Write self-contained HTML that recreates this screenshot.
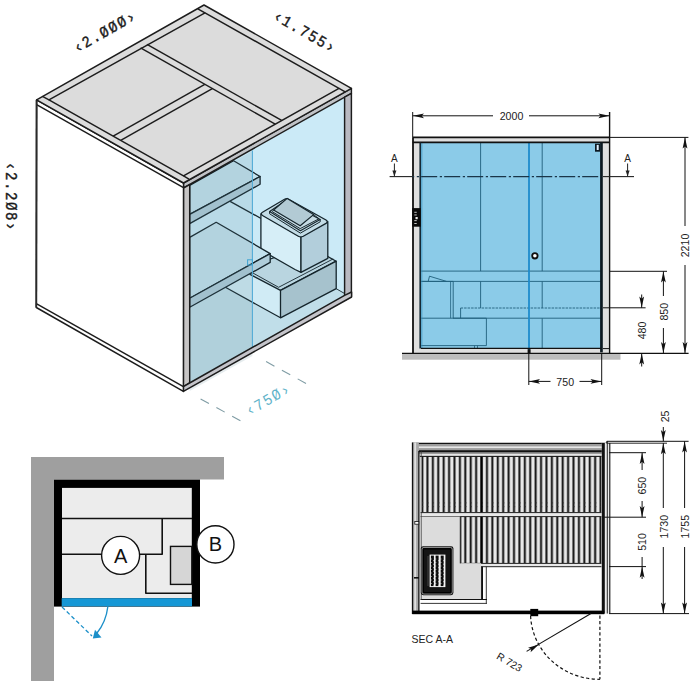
<!DOCTYPE html><html><head><meta charset="utf-8"><style>html,body{margin:0;padding:0;background:#fff;width:700px;height:700px;overflow:hidden}svg{display:block}</style></head><body>
<svg width="700" height="700" viewBox="0 0 700 700">
<polygon points="183.50,188.20 351.40,93.60 351.40,296.74 183.40,391.40" fill="#cbeaf7" stroke="none" stroke-width="0" stroke-linejoin="round" />
<polygon points="189.70,307.20 225.40,287.30 280.50,317.80 336.20,288.70 344.60,293.50 344.60,300.00 189.70,386.00" fill="#c0dee9" stroke="none" stroke-width="0" stroke-linejoin="round" />
<line x1="230.10" y1="201.40" x2="262.00" y2="219.00" stroke="#15252c" stroke-width="1.3" />
<line x1="336.20" y1="288.70" x2="344.60" y2="293.50" stroke="#15252c" stroke-width="0.9" />
<polygon points="189.70,214.40 260.10,176.50 233.60,160.80 189.70,185.40" fill="#c3e2ee" stroke="#15252c" stroke-width="1.3" stroke-linejoin="round" />
<polygon points="189.70,214.40 260.10,176.50 260.10,184.30 189.70,223.60" fill="#afcdda" stroke="#15252c" stroke-width="1.3" stroke-linejoin="round" />
<polygon points="252.60,273.80 280.50,290.30 280.50,317.80 225.40,287.30 240.00,279.00" fill="#d0ebf5" stroke="none" stroke-width="0" stroke-linejoin="round" />
<line x1="280.50" y1="317.80" x2="225.40" y2="287.30" stroke="#15252c" stroke-width="1.3" />
<polygon points="249.90,274.40 280.50,290.30 336.20,261.20 308.00,245.50 262.00,262.00" fill="#b9d5e0" stroke="#15252c" stroke-width="1.3" stroke-linejoin="round" />
<polygon points="280.50,290.30 336.20,261.20 336.20,288.70 280.50,317.80" fill="#a6c2cd" stroke="#15252c" stroke-width="1.3" stroke-linejoin="round" />
<line x1="278.60" y1="287.30" x2="333.20" y2="258.90" stroke="#15252c" stroke-width="0.9" />
<line x1="278.60" y1="287.30" x2="252.00" y2="272.50" stroke="#15252c" stroke-width="0.9" />
<polygon points="260.90,213.80 301.00,236.90 301.00,272.30 295.00,269.50 260.90,250.00" fill="#d6eef7" stroke="#15252c" stroke-width="1.3" stroke-linejoin="round" />
<polygon points="301.00,236.90 327.80,221.50 327.80,258.40 301.00,272.30" fill="#b2cedb" stroke="#15252c" stroke-width="1.3" stroke-linejoin="round" />
<path d="M262.5,212.2 L284.5,199.3 Q286.6,198.2 288.7,199.3 L326,220 Q328.5,221.8 326,223.4 L303.3,236.2 Q300.6,237.6 298.3,236.2 L262.5,215.5 Q260,213.8 262.5,212.2 Z" fill="#c3dce6" stroke="#15252c" stroke-width="1.25"/>
<polygon points="269.60,211.50 285.50,200.80 320.20,219.40 300.40,230.80" fill="#c6dbe4" stroke="#15252c" stroke-width="1.1" stroke-linejoin="round" />
<polyline points="269.60,213.80 300.40,233.10 320.20,221.80" fill="none" stroke="#15252c" stroke-width="1.0" stroke-linejoin="round" />
<line x1="269.60" y1="211.50" x2="269.60" y2="213.80" stroke="#15252c" stroke-width="1.0" />
<line x1="320.20" y1="219.40" x2="320.20" y2="221.80" stroke="#15252c" stroke-width="1.0" />
<polygon points="273.60,210.00 287.20,198.40 313.60,214.60 300.20,225.80" fill="#b2cad4" stroke="#15252c" stroke-width="1.2" stroke-linejoin="round" />
<polyline points="272.20,211.60 300.20,228.60 319.00,218.80" fill="none" stroke="#15252c" stroke-width="1.0" stroke-linejoin="round" />
<line x1="313.60" y1="214.60" x2="319.00" y2="218.80" stroke="#15252c" stroke-width="1.0" />
<line x1="273.60" y1="210.00" x2="272.20" y2="211.60" stroke="#15252c" stroke-width="1.0" />
<polygon points="189.70,237.40 216.20,222.30 270.20,253.60 189.70,298.20" fill="#c3e2ee" stroke="#15252c" stroke-width="1.3" stroke-linejoin="round" />
<polygon points="189.70,298.20 270.20,253.60 270.20,262.40 189.70,307.20" fill="#afcdda" stroke="#15252c" stroke-width="1.3" stroke-linejoin="round" />
<polygon points="189.70,186.00 252.40,151.00 252.40,356.00 189.70,391.00" fill="#5a7e90" stroke="none" stroke-width="0" stroke-linejoin="round" fill-opacity="0.15"/>
<line x1="252.40" y1="150.50" x2="252.40" y2="347.30" stroke="#4faad6" stroke-width="1.05" />
<rect x="247.60" y="259.80" width="4.80" height="5.20" fill="none" stroke="#3ea3d2" stroke-width="1.0" />
<polygon points="183.50,183.00 351.40,88.40 351.40,93.40 183.50,188.00" fill="#c0c2c6" stroke="#1c1c1c" stroke-width="1.45" stroke-linejoin="round" />
<polygon points="183.50,188.00 189.70,184.60 189.70,383.00 183.40,386.60" fill="#c7c5c5" stroke="#1c1c1c" stroke-width="1.45" stroke-linejoin="round" />
<polygon points="344.60,97.20 351.40,93.40 351.40,296.50 344.60,300.30" fill="#b9b9c1" stroke="#1c1c1c" stroke-width="1.45" stroke-linejoin="round" />
<polygon points="183.40,391.40 351.60,297.00 351.60,292.00 344.60,295.30 189.60,383.00 183.40,386.60" fill="#c4c4ca" stroke="#1c1c1c" stroke-width="1.45" stroke-linejoin="round" />
<polygon points="36.60,99.90 183.50,183.00 183.40,391.40 36.30,307.50" fill="#ffffff" stroke="#1c1c1c" stroke-width="1.45" stroke-linejoin="round" />
<line x1="36.60" y1="104.70" x2="183.50" y2="187.60" stroke="#1c1c1c" stroke-width="1.45" />
<line x1="36.30" y1="303.70" x2="183.40" y2="386.60" stroke="#1c1c1c" stroke-width="1.45" />
<line x1="36.60" y1="99.90" x2="36.30" y2="307.50" stroke="#2a2a2a" stroke-width="1.8" />
<polygon points="36.60,99.90 204.00,5.00 351.40,88.40 183.50,183.00" fill="#dcdcdc" stroke="#1c1c1c" stroke-width="1.45" stroke-linejoin="round" />
<polygon points="48.96,99.89 205.00,12.80 339.00,88.40 183.50,175.80" fill="none" stroke="#1c1c1c" stroke-width="1.45" stroke-linejoin="round" />
<line x1="48.96" y1="99.89" x2="42.46" y2="96.39" stroke="#1c1c1c" stroke-width="1.45" />
<line x1="183.50" y1="175.80" x2="189.00" y2="179.10" stroke="#1c1c1c" stroke-width="1.45" />
<line x1="205.00" y1="12.80" x2="197.80" y2="8.80" stroke="#1c1c1c" stroke-width="1.45" />
<line x1="339.00" y1="88.40" x2="345.20" y2="91.90" stroke="#1c1c1c" stroke-width="1.45" />
<line x1="140.57" y1="47.96" x2="275.20" y2="124.13" stroke="#1c1c1c" stroke-width="1.45" />
<line x1="147.01" y1="44.31" x2="281.66" y2="120.49" stroke="#1c1c1c" stroke-width="1.45" />
<line x1="113.16" y1="136.21" x2="204.76" y2="84.28" stroke="#1c1c1c" stroke-width="1.45" />
<line x1="120.72" y1="140.49" x2="212.32" y2="88.56" stroke="#1c1c1c" stroke-width="1.45" />
<text x="0" y="0" transform="translate(105.30,32.30) rotate(-29.50) scale(1,1.12)" font-family="Liberation Mono" font-size="14" letter-spacing="1.6" fill="#1a1a1a" stroke="#1a1a1a" stroke-width="0.35" text-anchor="middle" dominant-baseline="central">‹2.ØØØ›</text>
<text x="0" y="0" transform="translate(304.60,32.50) rotate(30.00) scale(1,1.12)" font-family="Liberation Mono" font-size="14" letter-spacing="1.6" fill="#1a1a1a" stroke="#1a1a1a" stroke-width="0.35" text-anchor="middle" dominant-baseline="central">‹1.755›</text>
<text x="0" y="0" transform="translate(9.80,197.00) rotate(90.00) scale(1,1.12)" font-family="Liberation Mono" font-size="14" letter-spacing="1.6" fill="#1a1a1a" stroke="#1a1a1a" stroke-width="0.35" text-anchor="middle" dominant-baseline="central">‹2.2Ø8›</text>
<text x="0" y="0" transform="translate(268.70,400.10) rotate(-29.50) scale(1,1.12)" font-family="Liberation Mono" font-size="14" letter-spacing="1.6" fill="#5fb3c9" stroke="#5fb3c9" stroke-width="0" text-anchor="middle" dominant-baseline="central">‹75Ø›</text>
<line x1="200.60" y1="398.90" x2="240.40" y2="420.70" stroke="#7f9ca4" stroke-width="1.1" stroke-dasharray="9.5,8.5"/>
<line x1="266.10" y1="361.60" x2="306.00" y2="383.40" stroke="#7f9ca4" stroke-width="1.1" stroke-dasharray="9.5,8.5"/>
<rect x="31.00" y="457.00" width="23.00" height="224.00" fill="#9f9f9f" stroke="none" stroke-width="1.0" />
<rect x="31.00" y="457.00" width="193.00" height="22.50" fill="#9f9f9f" stroke="none" stroke-width="1.0" />
<rect x="54.00" y="479.60" width="146.00" height="127.00" fill="#000" stroke="none" stroke-width="1.0" />
<rect x="62.00" y="487.90" width="129.80" height="110.30" fill="#ececec" stroke="none" stroke-width="1.0" />
<rect x="61.70" y="598.20" width="130.30" height="8.20" fill="#1597d5" stroke="none" stroke-width="1.0" />
<line x1="62.00" y1="518.50" x2="192.00" y2="518.50" stroke="#111" stroke-width="1.6" />
<polyline points="162.20,518.50 162.20,554.30 139.60,554.30" fill="none" stroke="#111" stroke-width="1.6" stroke-linejoin="round" />
<line x1="62.00" y1="554.30" x2="101.60" y2="554.30" stroke="#111" stroke-width="1.6" />
<polyline points="145.80,554.30 145.80,593.20 192.00,593.20" fill="none" stroke="#111" stroke-width="1.6" stroke-linejoin="round" />
<rect x="170.50" y="546.40" width="21.30" height="38.00" fill="#d6d6d6" stroke="#111" stroke-width="1.4" />
<circle cx="120.6" cy="555.4" r="19" fill="#fff" stroke="#111" stroke-width="1.4"/>
<circle cx="215.4" cy="544.4" r="18.6" fill="#fff" stroke="#111" stroke-width="1.4"/>
<text x="120.60" y="562.70" font-family="Liberation Sans" font-size="20" fill="#111" text-anchor="middle" >A</text>
<text x="215.40" y="551.20" font-family="Liberation Sans" font-size="20" fill="#111" text-anchor="middle" >B</text>
<line x1="62.00" y1="607.00" x2="92.00" y2="636.00" stroke="#1b8fc9" stroke-width="1.3" stroke-dasharray="4,2.6"/>
<path d="M107.9,606.4 Q106,622 97,633" fill="none" stroke="#1b8fc9" stroke-width="1.3"/>
<polygon points="92.80,638.60 101.50,637.50 95.00,629.80" fill="#1b8fc9" stroke="none" stroke-width="0" stroke-linejoin="round" />
<rect x="402.00" y="353.30" width="218.50" height="6.40" fill="#bdbdbd" stroke="none" stroke-width="1.0" />
<rect x="412.70" y="137.30" width="197.00" height="216.00" fill="#dfdfdf" stroke="none" stroke-width="1.0" />
<rect x="421.00" y="142.80" width="180.00" height="205.60" fill="#8bcbe8" stroke="none" stroke-width="1.0" />
<line x1="480.60" y1="142.80" x2="480.60" y2="271.10" stroke="#1f5f7c" stroke-width="0.9" />
<line x1="480.60" y1="281.40" x2="480.60" y2="308.00" stroke="#1f5f7c" stroke-width="0.9" />
<line x1="542.20" y1="142.80" x2="542.20" y2="271.10" stroke="#1f5f7c" stroke-width="0.9" />
<line x1="542.20" y1="281.40" x2="542.20" y2="308.00" stroke="#1f5f7c" stroke-width="0.9" />
<line x1="542.20" y1="318.30" x2="542.20" y2="348.30" stroke="#1f5f7c" stroke-width="0.9" />
<line x1="421.00" y1="271.10" x2="601.00" y2="271.10" stroke="#1f5f7c" stroke-width="0.9" />
<line x1="421.00" y1="281.40" x2="601.00" y2="281.40" stroke="#1f5f7c" stroke-width="0.9" />
<line x1="460.60" y1="308.00" x2="601.00" y2="308.00" stroke="#1f5f7c" stroke-width="0.9" stroke-dasharray="2.5,1"/>
<line x1="460.60" y1="308.00" x2="460.60" y2="318.20" stroke="#1f5f7c" stroke-width="0.9" />
<line x1="453.00" y1="318.20" x2="601.00" y2="318.20" stroke="#1f5f7c" stroke-width="0.9" />
<polyline points="421.00,281.40 453.20,281.40 453.20,318.20" fill="none" stroke="#1f5f7c" stroke-width="0.9" stroke-linejoin="round" />
<line x1="450.60" y1="281.40" x2="450.60" y2="318.20" stroke="#1f5f7c" stroke-width="0.8" />
<polyline points="428.20,281.40 429.50,276.20 446.50,281.40" fill="none" stroke="#1f5f7c" stroke-width="0.9" stroke-linejoin="round" />
<polyline points="421.00,318.20 486.40,318.20 486.40,345.60 421.00,345.60" fill="none" stroke="#1f5f7c" stroke-width="0.9" stroke-linejoin="round" />
<line x1="474.50" y1="345.60" x2="474.50" y2="348.30" stroke="#1f5f7c" stroke-width="0.8" />
<line x1="477.50" y1="345.60" x2="477.50" y2="348.30" stroke="#1f5f7c" stroke-width="0.8" />
<line x1="421.80" y1="142.80" x2="421.80" y2="348.30" stroke="#3a90bb" stroke-width="0.8" />
<line x1="529.00" y1="142.80" x2="529.00" y2="351.00" stroke="#1f8ccc" stroke-width="1.8" />
<circle cx="534.9" cy="255.8" r="2.7" fill="#fff" stroke="#111" stroke-width="1.8"/>
<line x1="412.70" y1="137.40" x2="609.70" y2="137.40" stroke="#111" stroke-width="1.8" />
<line x1="412.70" y1="142.40" x2="609.70" y2="142.40" stroke="#111" stroke-width="1.6" />
<line x1="413.00" y1="137.30" x2="413.00" y2="353.30" stroke="#111" stroke-width="1.8" />
<line x1="420.20" y1="142.40" x2="420.20" y2="348.50" stroke="#152a36" stroke-width="1.6" />
<line x1="609.60" y1="112.00" x2="609.60" y2="353.30" stroke="#111" stroke-width="1.4" />
<rect x="600.10" y="142.40" width="2.70" height="210.00" fill="#0c1820" stroke="none" stroke-width="1.0" />
<rect x="595.00" y="143.70" width="5.10" height="8.00" fill="#0c1820" stroke="none" stroke-width="1.0" />
<rect x="596.70" y="144.90" width="2.00" height="5.10" fill="#dfefff" stroke="none" stroke-width="1.0" />
<line x1="421.00" y1="348.40" x2="601.00" y2="348.40" stroke="#111" stroke-width="1.1" />
<line x1="402.00" y1="353.30" x2="688.60" y2="353.30" stroke="#111" stroke-width="1.3" />
<rect x="527.60" y="349.20" width="3.00" height="4.00" fill="#111" stroke="none" stroke-width="1.0" />
<line x1="603.00" y1="348.60" x2="609.60" y2="348.60" stroke="#111" stroke-width="1.0" />
<rect x="412.20" y="208.10" width="8.60" height="18.60" fill="#0a0a0a" stroke="none" stroke-width="1.0" />
<rect x="414.30" y="211.80" width="2.40" height="0.90" fill="#ddd" stroke="none" stroke-width="1.0" />
<rect x="414.30" y="214.50" width="2.40" height="0.90" fill="#ddd" stroke="none" stroke-width="1.0" />
<rect x="414.30" y="220.20" width="2.40" height="0.90" fill="#ddd" stroke="none" stroke-width="1.0" />
<rect x="414.30" y="223.00" width="2.40" height="0.90" fill="#ddd" stroke="none" stroke-width="1.0" />
<rect x="415.50" y="217.00" width="2.20" height="2.20" fill="#eee" stroke="none" stroke-width="1.0" />
<line x1="389.60" y1="176.60" x2="412.50" y2="176.60" stroke="#222" stroke-width="1.1" />
<line x1="603.00" y1="176.60" x2="634.00" y2="176.60" stroke="#222" stroke-width="1.1" />
<line x1="412.50" y1="176.60" x2="601.00" y2="176.60" stroke="#1a3548" stroke-width="1.3" stroke-dasharray="16,2.6,2.2,2.2" stroke-dashoffset="14.3"/>
<line x1="394.40" y1="163.50" x2="394.40" y2="176.20" stroke="#222" stroke-width="1.0" />
<polygon points="392.40,170.50 396.40,170.50 394.40,176.40" fill="#222" stroke="none" stroke-width="0" stroke-linejoin="round" />
<text x="394.40" y="161.50" font-family="Liberation Sans" font-size="10" fill="#222" text-anchor="middle" >A</text>
<line x1="627.60" y1="163.50" x2="627.60" y2="176.20" stroke="#222" stroke-width="1.0" />
<polygon points="625.60,170.50 629.60,170.50 627.60,176.40" fill="#222" stroke="none" stroke-width="0" stroke-linejoin="round" />
<text x="627.60" y="161.50" font-family="Liberation Sans" font-size="10" fill="#222" text-anchor="middle" >A</text>
<line x1="412.70" y1="112.00" x2="412.70" y2="137.30" stroke="#111" stroke-width="1.0" />
<line x1="412.70" y1="115.80" x2="493.00" y2="115.80" stroke="#111" stroke-width="1.0" />
<line x1="529.00" y1="115.80" x2="609.60" y2="115.80" stroke="#111" stroke-width="1.0" />
<polygon points="413.00,115.80 424.00,113.40 421.80,115.80 424.00,118.20" fill="#111" stroke="none" stroke-width="0" stroke-linejoin="round" />
<polygon points="609.40,115.80 598.40,113.40 600.60,115.80 598.40,118.20" fill="#111" stroke="none" stroke-width="0" stroke-linejoin="round" />
<text x="511.50" y="120.20" font-family="Liberation Sans" font-size="10.6" fill="#222" text-anchor="middle" >2000</text>
<line x1="609.60" y1="137.40" x2="688.40" y2="137.40" stroke="#111" stroke-width="1.0" />
<line x1="685.00" y1="137.40" x2="685.00" y2="226.00" stroke="#111" stroke-width="1.0" />
<line x1="685.00" y1="265.00" x2="685.00" y2="353.30" stroke="#111" stroke-width="1.0" />
<polygon points="685.00,137.60 682.60,148.60 685.00,146.40 687.40,148.60" fill="#111" stroke="none" stroke-width="0" stroke-linejoin="round" />
<polygon points="685.00,353.10 682.60,342.10 685.00,344.30 687.40,342.10" fill="#111" stroke="none" stroke-width="0" stroke-linejoin="round" />
<text x="0" y="0" transform="translate(689.2,245.5) rotate(-90)" font-family="Liberation Sans" font-size="10.6" fill="#222" text-anchor="middle">2210</text>
<line x1="609.60" y1="271.30" x2="667.00" y2="271.30" stroke="#111" stroke-width="1.0" />
<line x1="663.40" y1="271.30" x2="663.40" y2="296.00" stroke="#111" stroke-width="1.0" />
<line x1="663.40" y1="328.00" x2="663.40" y2="353.30" stroke="#111" stroke-width="1.0" />
<polygon points="663.40,271.50 661.00,282.50 663.40,280.30 665.80,282.50" fill="#111" stroke="none" stroke-width="0" stroke-linejoin="round" />
<polygon points="663.40,353.10 661.00,342.10 663.40,344.30 665.80,342.10" fill="#111" stroke="none" stroke-width="0" stroke-linejoin="round" />
<text x="0" y="0" transform="translate(667.6,311.7) rotate(-90)" font-family="Liberation Sans" font-size="10.6" fill="#222" text-anchor="middle">850</text>
<line x1="603.00" y1="307.80" x2="645.60" y2="307.80" stroke="#111" stroke-width="1.0" />
<line x1="641.70" y1="294.50" x2="641.70" y2="307.80" stroke="#111" stroke-width="1.0" />
<polygon points="641.70,307.60 639.30,296.60 641.70,298.80 644.10,296.60" fill="#111" stroke="none" stroke-width="0" stroke-linejoin="round" />
<line x1="641.70" y1="353.30" x2="641.70" y2="366.50" stroke="#111" stroke-width="1.0" />
<polygon points="641.70,353.50 639.30,364.50 641.70,362.30 644.10,364.50" fill="#111" stroke="none" stroke-width="0" stroke-linejoin="round" />
<text x="0" y="0" transform="translate(645.9,330.5) rotate(-90)" font-family="Liberation Sans" font-size="10.6" fill="#222" text-anchor="middle">480</text>
<line x1="528.80" y1="351.00" x2="528.80" y2="385.00" stroke="#111" stroke-width="1.0" />
<line x1="601.70" y1="353.00" x2="601.70" y2="385.00" stroke="#111" stroke-width="1.0" />
<line x1="528.80" y1="381.40" x2="550.50" y2="381.40" stroke="#111" stroke-width="1.0" />
<line x1="579.50" y1="381.40" x2="601.70" y2="381.40" stroke="#111" stroke-width="1.0" />
<polygon points="529.00,381.40 540.00,379.00 537.80,381.40 540.00,383.80" fill="#111" stroke="none" stroke-width="0" stroke-linejoin="round" />
<polygon points="601.50,381.40 590.50,379.00 592.70,381.40 590.50,383.80" fill="#111" stroke="none" stroke-width="0" stroke-linejoin="round" />
<text x="565.20" y="385.80" font-family="Liberation Sans" font-size="10.6" fill="#222" text-anchor="middle" >750</text>
<rect x="422.00" y="456.20" width="179.50" height="56.40" fill="#8e8e8e" stroke="none" stroke-width="1.0" />
<rect x="422.00" y="456.20" width="1.40" height="56.40" fill="#1c1c1c" stroke="none" stroke-width="1.0" />
<rect x="423.59" y="456.20" width="2.40" height="56.40" fill="#e8e8e8" stroke="none" stroke-width="1.0" />
<rect x="426.70" y="456.20" width="1.40" height="56.40" fill="#1c1c1c" stroke="none" stroke-width="1.0" />
<rect x="429.00" y="456.20" width="2.40" height="56.40" fill="#e8e8e8" stroke="none" stroke-width="1.0" />
<rect x="432.11" y="456.20" width="1.40" height="56.40" fill="#1c1c1c" stroke="none" stroke-width="1.0" />
<rect x="434.41" y="456.20" width="2.40" height="56.40" fill="#e8e8e8" stroke="none" stroke-width="1.0" />
<rect x="437.52" y="456.20" width="1.40" height="56.40" fill="#1c1c1c" stroke="none" stroke-width="1.0" />
<rect x="439.82" y="456.20" width="2.40" height="56.40" fill="#e8e8e8" stroke="none" stroke-width="1.0" />
<rect x="442.93" y="456.20" width="1.40" height="56.40" fill="#1c1c1c" stroke="none" stroke-width="1.0" />
<rect x="445.23" y="456.20" width="2.40" height="56.40" fill="#e8e8e8" stroke="none" stroke-width="1.0" />
<rect x="448.34" y="456.20" width="1.40" height="56.40" fill="#1c1c1c" stroke="none" stroke-width="1.0" />
<rect x="450.64" y="456.20" width="2.40" height="56.40" fill="#e8e8e8" stroke="none" stroke-width="1.0" />
<rect x="453.75" y="456.20" width="1.40" height="56.40" fill="#1c1c1c" stroke="none" stroke-width="1.0" />
<rect x="456.05" y="456.20" width="2.40" height="56.40" fill="#e8e8e8" stroke="none" stroke-width="1.0" />
<rect x="459.16" y="456.20" width="1.40" height="56.40" fill="#1c1c1c" stroke="none" stroke-width="1.0" />
<rect x="461.46" y="456.20" width="2.40" height="56.40" fill="#e8e8e8" stroke="none" stroke-width="1.0" />
<rect x="464.57" y="456.20" width="1.40" height="56.40" fill="#1c1c1c" stroke="none" stroke-width="1.0" />
<rect x="466.87" y="456.20" width="2.40" height="56.40" fill="#e8e8e8" stroke="none" stroke-width="1.0" />
<rect x="469.98" y="456.20" width="1.40" height="56.40" fill="#1c1c1c" stroke="none" stroke-width="1.0" />
<rect x="472.28" y="456.20" width="2.40" height="56.40" fill="#e8e8e8" stroke="none" stroke-width="1.0" />
<rect x="475.39" y="456.20" width="1.40" height="56.40" fill="#1c1c1c" stroke="none" stroke-width="1.0" />
<rect x="477.69" y="456.20" width="2.40" height="56.40" fill="#e8e8e8" stroke="none" stroke-width="1.0" />
<rect x="480.80" y="456.20" width="1.40" height="56.40" fill="#1c1c1c" stroke="none" stroke-width="1.0" />
<rect x="483.10" y="456.20" width="2.40" height="56.40" fill="#e8e8e8" stroke="none" stroke-width="1.0" />
<rect x="486.21" y="456.20" width="1.40" height="56.40" fill="#1c1c1c" stroke="none" stroke-width="1.0" />
<rect x="488.51" y="456.20" width="2.40" height="56.40" fill="#e8e8e8" stroke="none" stroke-width="1.0" />
<rect x="491.62" y="456.20" width="1.40" height="56.40" fill="#1c1c1c" stroke="none" stroke-width="1.0" />
<rect x="493.92" y="456.20" width="2.40" height="56.40" fill="#e8e8e8" stroke="none" stroke-width="1.0" />
<rect x="497.03" y="456.20" width="1.40" height="56.40" fill="#1c1c1c" stroke="none" stroke-width="1.0" />
<rect x="499.33" y="456.20" width="2.40" height="56.40" fill="#e8e8e8" stroke="none" stroke-width="1.0" />
<rect x="502.44" y="456.20" width="1.40" height="56.40" fill="#1c1c1c" stroke="none" stroke-width="1.0" />
<rect x="504.74" y="456.20" width="2.40" height="56.40" fill="#e8e8e8" stroke="none" stroke-width="1.0" />
<rect x="507.85" y="456.20" width="1.40" height="56.40" fill="#1c1c1c" stroke="none" stroke-width="1.0" />
<rect x="510.15" y="456.20" width="2.40" height="56.40" fill="#e8e8e8" stroke="none" stroke-width="1.0" />
<rect x="513.26" y="456.20" width="1.40" height="56.40" fill="#1c1c1c" stroke="none" stroke-width="1.0" />
<rect x="515.56" y="456.20" width="2.40" height="56.40" fill="#e8e8e8" stroke="none" stroke-width="1.0" />
<rect x="518.67" y="456.20" width="1.40" height="56.40" fill="#1c1c1c" stroke="none" stroke-width="1.0" />
<rect x="520.97" y="456.20" width="2.40" height="56.40" fill="#e8e8e8" stroke="none" stroke-width="1.0" />
<rect x="524.08" y="456.20" width="1.40" height="56.40" fill="#1c1c1c" stroke="none" stroke-width="1.0" />
<rect x="526.38" y="456.20" width="2.40" height="56.40" fill="#e8e8e8" stroke="none" stroke-width="1.0" />
<rect x="529.49" y="456.20" width="1.40" height="56.40" fill="#1c1c1c" stroke="none" stroke-width="1.0" />
<rect x="531.79" y="456.20" width="2.40" height="56.40" fill="#e8e8e8" stroke="none" stroke-width="1.0" />
<rect x="534.90" y="456.20" width="1.40" height="56.40" fill="#1c1c1c" stroke="none" stroke-width="1.0" />
<rect x="537.20" y="456.20" width="2.40" height="56.40" fill="#e8e8e8" stroke="none" stroke-width="1.0" />
<rect x="540.31" y="456.20" width="1.40" height="56.40" fill="#1c1c1c" stroke="none" stroke-width="1.0" />
<rect x="542.61" y="456.20" width="2.40" height="56.40" fill="#e8e8e8" stroke="none" stroke-width="1.0" />
<rect x="545.72" y="456.20" width="1.40" height="56.40" fill="#1c1c1c" stroke="none" stroke-width="1.0" />
<rect x="548.02" y="456.20" width="2.40" height="56.40" fill="#e8e8e8" stroke="none" stroke-width="1.0" />
<rect x="551.13" y="456.20" width="1.40" height="56.40" fill="#1c1c1c" stroke="none" stroke-width="1.0" />
<rect x="553.43" y="456.20" width="2.40" height="56.40" fill="#e8e8e8" stroke="none" stroke-width="1.0" />
<rect x="556.54" y="456.20" width="1.40" height="56.40" fill="#1c1c1c" stroke="none" stroke-width="1.0" />
<rect x="558.84" y="456.20" width="2.40" height="56.40" fill="#e8e8e8" stroke="none" stroke-width="1.0" />
<rect x="561.95" y="456.20" width="1.40" height="56.40" fill="#1c1c1c" stroke="none" stroke-width="1.0" />
<rect x="564.25" y="456.20" width="2.40" height="56.40" fill="#e8e8e8" stroke="none" stroke-width="1.0" />
<rect x="567.36" y="456.20" width="1.40" height="56.40" fill="#1c1c1c" stroke="none" stroke-width="1.0" />
<rect x="569.66" y="456.20" width="2.40" height="56.40" fill="#e8e8e8" stroke="none" stroke-width="1.0" />
<rect x="572.77" y="456.20" width="1.40" height="56.40" fill="#1c1c1c" stroke="none" stroke-width="1.0" />
<rect x="575.07" y="456.20" width="2.40" height="56.40" fill="#e8e8e8" stroke="none" stroke-width="1.0" />
<rect x="578.18" y="456.20" width="1.40" height="56.40" fill="#1c1c1c" stroke="none" stroke-width="1.0" />
<rect x="580.48" y="456.20" width="2.40" height="56.40" fill="#e8e8e8" stroke="none" stroke-width="1.0" />
<rect x="583.59" y="456.20" width="1.40" height="56.40" fill="#1c1c1c" stroke="none" stroke-width="1.0" />
<rect x="585.89" y="456.20" width="2.40" height="56.40" fill="#e8e8e8" stroke="none" stroke-width="1.0" />
<rect x="589.00" y="456.20" width="1.40" height="56.40" fill="#1c1c1c" stroke="none" stroke-width="1.0" />
<rect x="591.30" y="456.20" width="2.40" height="56.40" fill="#e8e8e8" stroke="none" stroke-width="1.0" />
<rect x="594.41" y="456.20" width="1.40" height="56.40" fill="#1c1c1c" stroke="none" stroke-width="1.0" />
<rect x="596.71" y="456.20" width="2.40" height="56.40" fill="#e8e8e8" stroke="none" stroke-width="1.0" />
<rect x="599.82" y="456.20" width="1.40" height="56.40" fill="#1c1c1c" stroke="none" stroke-width="1.0" />
<rect x="460.30" y="516.60" width="141.20" height="46.60" fill="#8e8e8e" stroke="none" stroke-width="1.0" />
<rect x="460.30" y="516.60" width="1.40" height="46.60" fill="#1c1c1c" stroke="none" stroke-width="1.0" />
<rect x="461.46" y="516.60" width="2.40" height="46.60" fill="#e8e8e8" stroke="none" stroke-width="1.0" />
<rect x="464.57" y="516.60" width="1.40" height="46.60" fill="#1c1c1c" stroke="none" stroke-width="1.0" />
<rect x="466.87" y="516.60" width="2.40" height="46.60" fill="#e8e8e8" stroke="none" stroke-width="1.0" />
<rect x="469.98" y="516.60" width="1.40" height="46.60" fill="#1c1c1c" stroke="none" stroke-width="1.0" />
<rect x="472.28" y="516.60" width="2.40" height="46.60" fill="#e8e8e8" stroke="none" stroke-width="1.0" />
<rect x="475.39" y="516.60" width="1.40" height="46.60" fill="#1c1c1c" stroke="none" stroke-width="1.0" />
<rect x="477.69" y="516.60" width="2.40" height="46.60" fill="#e8e8e8" stroke="none" stroke-width="1.0" />
<rect x="480.80" y="516.60" width="1.40" height="46.60" fill="#1c1c1c" stroke="none" stroke-width="1.0" />
<rect x="483.10" y="516.60" width="2.40" height="46.60" fill="#e8e8e8" stroke="none" stroke-width="1.0" />
<rect x="486.21" y="516.60" width="1.40" height="46.60" fill="#1c1c1c" stroke="none" stroke-width="1.0" />
<rect x="488.51" y="516.60" width="2.40" height="46.60" fill="#e8e8e8" stroke="none" stroke-width="1.0" />
<rect x="491.62" y="516.60" width="1.40" height="46.60" fill="#1c1c1c" stroke="none" stroke-width="1.0" />
<rect x="493.92" y="516.60" width="2.40" height="46.60" fill="#e8e8e8" stroke="none" stroke-width="1.0" />
<rect x="497.03" y="516.60" width="1.40" height="46.60" fill="#1c1c1c" stroke="none" stroke-width="1.0" />
<rect x="499.33" y="516.60" width="2.40" height="46.60" fill="#e8e8e8" stroke="none" stroke-width="1.0" />
<rect x="502.44" y="516.60" width="1.40" height="46.60" fill="#1c1c1c" stroke="none" stroke-width="1.0" />
<rect x="504.74" y="516.60" width="2.40" height="46.60" fill="#e8e8e8" stroke="none" stroke-width="1.0" />
<rect x="507.85" y="516.60" width="1.40" height="46.60" fill="#1c1c1c" stroke="none" stroke-width="1.0" />
<rect x="510.15" y="516.60" width="2.40" height="46.60" fill="#e8e8e8" stroke="none" stroke-width="1.0" />
<rect x="513.26" y="516.60" width="1.40" height="46.60" fill="#1c1c1c" stroke="none" stroke-width="1.0" />
<rect x="515.56" y="516.60" width="2.40" height="46.60" fill="#e8e8e8" stroke="none" stroke-width="1.0" />
<rect x="518.67" y="516.60" width="1.40" height="46.60" fill="#1c1c1c" stroke="none" stroke-width="1.0" />
<rect x="520.97" y="516.60" width="2.40" height="46.60" fill="#e8e8e8" stroke="none" stroke-width="1.0" />
<rect x="524.08" y="516.60" width="1.40" height="46.60" fill="#1c1c1c" stroke="none" stroke-width="1.0" />
<rect x="526.38" y="516.60" width="2.40" height="46.60" fill="#e8e8e8" stroke="none" stroke-width="1.0" />
<rect x="529.49" y="516.60" width="1.40" height="46.60" fill="#1c1c1c" stroke="none" stroke-width="1.0" />
<rect x="531.79" y="516.60" width="2.40" height="46.60" fill="#e8e8e8" stroke="none" stroke-width="1.0" />
<rect x="534.90" y="516.60" width="1.40" height="46.60" fill="#1c1c1c" stroke="none" stroke-width="1.0" />
<rect x="537.20" y="516.60" width="2.40" height="46.60" fill="#e8e8e8" stroke="none" stroke-width="1.0" />
<rect x="540.31" y="516.60" width="1.40" height="46.60" fill="#1c1c1c" stroke="none" stroke-width="1.0" />
<rect x="542.61" y="516.60" width="2.40" height="46.60" fill="#e8e8e8" stroke="none" stroke-width="1.0" />
<rect x="545.72" y="516.60" width="1.40" height="46.60" fill="#1c1c1c" stroke="none" stroke-width="1.0" />
<rect x="548.02" y="516.60" width="2.40" height="46.60" fill="#e8e8e8" stroke="none" stroke-width="1.0" />
<rect x="551.13" y="516.60" width="1.40" height="46.60" fill="#1c1c1c" stroke="none" stroke-width="1.0" />
<rect x="553.43" y="516.60" width="2.40" height="46.60" fill="#e8e8e8" stroke="none" stroke-width="1.0" />
<rect x="556.54" y="516.60" width="1.40" height="46.60" fill="#1c1c1c" stroke="none" stroke-width="1.0" />
<rect x="558.84" y="516.60" width="2.40" height="46.60" fill="#e8e8e8" stroke="none" stroke-width="1.0" />
<rect x="561.95" y="516.60" width="1.40" height="46.60" fill="#1c1c1c" stroke="none" stroke-width="1.0" />
<rect x="564.25" y="516.60" width="2.40" height="46.60" fill="#e8e8e8" stroke="none" stroke-width="1.0" />
<rect x="567.36" y="516.60" width="1.40" height="46.60" fill="#1c1c1c" stroke="none" stroke-width="1.0" />
<rect x="569.66" y="516.60" width="2.40" height="46.60" fill="#e8e8e8" stroke="none" stroke-width="1.0" />
<rect x="572.77" y="516.60" width="1.40" height="46.60" fill="#1c1c1c" stroke="none" stroke-width="1.0" />
<rect x="575.07" y="516.60" width="2.40" height="46.60" fill="#e8e8e8" stroke="none" stroke-width="1.0" />
<rect x="578.18" y="516.60" width="1.40" height="46.60" fill="#1c1c1c" stroke="none" stroke-width="1.0" />
<rect x="580.48" y="516.60" width="2.40" height="46.60" fill="#e8e8e8" stroke="none" stroke-width="1.0" />
<rect x="583.59" y="516.60" width="1.40" height="46.60" fill="#1c1c1c" stroke="none" stroke-width="1.0" />
<rect x="585.89" y="516.60" width="2.40" height="46.60" fill="#e8e8e8" stroke="none" stroke-width="1.0" />
<rect x="589.00" y="516.60" width="1.40" height="46.60" fill="#1c1c1c" stroke="none" stroke-width="1.0" />
<rect x="591.30" y="516.60" width="2.40" height="46.60" fill="#e8e8e8" stroke="none" stroke-width="1.0" />
<rect x="594.41" y="516.60" width="1.40" height="46.60" fill="#1c1c1c" stroke="none" stroke-width="1.0" />
<rect x="596.71" y="516.60" width="2.40" height="46.60" fill="#e8e8e8" stroke="none" stroke-width="1.0" />
<rect x="599.82" y="516.60" width="1.40" height="46.60" fill="#1c1c1c" stroke="none" stroke-width="1.0" />
<line x1="422.00" y1="502.90" x2="601.00" y2="502.90" stroke="#333" stroke-width="0.9" stroke-dasharray="1.2,4.21"/>
<line x1="422.00" y1="506.70" x2="601.00" y2="506.70" stroke="#333" stroke-width="0.9" stroke-dasharray="1.2,4.21"/>
<rect x="480.50" y="456.20" width="2.10" height="107.00" fill="#000" stroke="none" stroke-width="1.0" />
<rect x="420.60" y="512.40" width="181.00" height="4.20" fill="#e8e8e8" stroke="none" stroke-width="1.0" />
<line x1="420.60" y1="512.60" x2="601.50" y2="512.60" stroke="#222" stroke-width="1.0" />
<line x1="420.60" y1="516.60" x2="601.50" y2="516.60" stroke="#222" stroke-width="1.0" />
<rect x="460.30" y="563.20" width="141.20" height="3.60" fill="#e8e8e8" stroke="none" stroke-width="1.0" />
<line x1="460.30" y1="563.40" x2="601.50" y2="563.40" stroke="#222" stroke-width="1.0" />
<line x1="460.30" y1="566.70" x2="601.50" y2="566.70" stroke="#222" stroke-width="1.0" />
<rect x="420.60" y="516.60" width="39.70" height="50.40" fill="#dcdcdc" stroke="none" stroke-width="1.0" />
<rect x="420.60" y="563.20" width="60.50" height="36.00" fill="#dcdcdc" stroke="none" stroke-width="1.0" />
<line x1="460.30" y1="516.60" x2="460.30" y2="563.40" stroke="#222" stroke-width="1.0" />
<rect x="481.10" y="566.60" width="1.90" height="33.00" fill="#111" stroke="none" stroke-width="1.0" />
<line x1="486.30" y1="566.60" x2="486.30" y2="603.40" stroke="#222" stroke-width="0.9" />
<line x1="420.60" y1="599.50" x2="487.00" y2="599.50" stroke="#111" stroke-width="1.1" />
<line x1="420.60" y1="603.40" x2="487.00" y2="603.40" stroke="#222" stroke-width="0.9" />
<rect x="412.30" y="443.00" width="195.00" height="13.50" fill="#9c9c9c" stroke="none" stroke-width="1.0" />
<rect x="412.30" y="446.40" width="195.00" height="1.70" fill="#e6e6e6" stroke="none" stroke-width="1.0" />
<rect x="412.30" y="454.00" width="195.00" height="1.90" fill="#e6e6e6" stroke="none" stroke-width="1.0" />
<line x1="412.30" y1="443.40" x2="607.00" y2="443.40" stroke="#111" stroke-width="1.4" />
<line x1="412.30" y1="451.20" x2="607.00" y2="451.20" stroke="#111" stroke-width="2.0" />
<line x1="420.00" y1="456.40" x2="601.50" y2="456.40" stroke="#111" stroke-width="1.0" />
<rect x="412.30" y="442.50" width="6.60" height="171.50" fill="#a9a9a9" stroke="none" stroke-width="1.0" />
<rect x="414.30" y="442.50" width="1.80" height="171.50" fill="#e0e0e0" stroke="none" stroke-width="1.0" />
<line x1="412.50" y1="442.50" x2="412.50" y2="614.00" stroke="#111" stroke-width="1.3" />
<line x1="418.90" y1="451.00" x2="418.90" y2="614.00" stroke="#111" stroke-width="1.3" />
<line x1="421.20" y1="451.00" x2="421.20" y2="600.00" stroke="#333" stroke-width="0.8" />
<rect x="414.80" y="521.60" width="4.00" height="2.60" fill="#fff" stroke="#111" stroke-width="0.8" />
<rect x="414.00" y="577.00" width="5.00" height="1.60" fill="#111" stroke="none" stroke-width="1.0" />
<rect x="601.80" y="443.00" width="8.20" height="170.60" fill="#ececec" stroke="none" stroke-width="1.0" />
<rect x="601.80" y="443.00" width="3.00" height="170.60" fill="#111" stroke="none" stroke-width="1.0" />
<line x1="607.30" y1="441.30" x2="607.30" y2="613.50" stroke="#111" stroke-width="0.9" />
<line x1="609.80" y1="443.00" x2="609.80" y2="613.50" stroke="#111" stroke-width="1.1" />
<line x1="606.80" y1="441.30" x2="606.80" y2="443.50" stroke="#111" stroke-width="1.0" />
<rect x="420.8" y="546.2" width="32.6" height="49" rx="2.4" fill="#0a0a0a"/>
<rect x="422.0" y="547.4" width="30.2" height="46.6" rx="1.8" fill="none" stroke="#bdbdbd" stroke-width="0.8"/>
<rect x="423.4" y="548.8" width="27.4" height="43.8" rx="1" fill="#141414" stroke="#000" stroke-width="1.2"/>
<line x1="428.00" y1="556.00" x2="428.00" y2="586.00" stroke="#777" stroke-width="0.5" />
<rect x="429.60" y="554.60" width="15.80" height="32.50" fill="#f4f4f4" stroke="none" stroke-width="1.0" />
<rect x="430.90" y="555.60" width="3.00" height="30.50" fill="#0c0c0c" stroke="none" stroke-width="1.0" />
<rect x="430.80" y="558.50" width="0.70" height="1.00" fill="#e8e8e8" stroke="none" stroke-width="1.0" />
<rect x="433.30" y="560.20" width="0.70" height="1.00" fill="#e8e8e8" stroke="none" stroke-width="1.0" />
<rect x="430.80" y="562.00" width="0.70" height="1.00" fill="#e8e8e8" stroke="none" stroke-width="1.0" />
<rect x="433.30" y="563.70" width="0.70" height="1.00" fill="#e8e8e8" stroke="none" stroke-width="1.0" />
<rect x="430.80" y="565.50" width="0.70" height="1.00" fill="#e8e8e8" stroke="none" stroke-width="1.0" />
<rect x="433.30" y="567.20" width="0.70" height="1.00" fill="#e8e8e8" stroke="none" stroke-width="1.0" />
<rect x="430.80" y="569.00" width="0.70" height="1.00" fill="#e8e8e8" stroke="none" stroke-width="1.0" />
<rect x="433.30" y="570.70" width="0.70" height="1.00" fill="#e8e8e8" stroke="none" stroke-width="1.0" />
<rect x="430.80" y="572.50" width="0.70" height="1.00" fill="#e8e8e8" stroke="none" stroke-width="1.0" />
<rect x="433.30" y="574.20" width="0.70" height="1.00" fill="#e8e8e8" stroke="none" stroke-width="1.0" />
<rect x="430.80" y="576.00" width="0.70" height="1.00" fill="#e8e8e8" stroke="none" stroke-width="1.0" />
<rect x="433.30" y="577.70" width="0.70" height="1.00" fill="#e8e8e8" stroke="none" stroke-width="1.0" />
<rect x="430.80" y="579.50" width="0.70" height="1.00" fill="#e8e8e8" stroke="none" stroke-width="1.0" />
<rect x="433.30" y="581.20" width="0.70" height="1.00" fill="#e8e8e8" stroke="none" stroke-width="1.0" />
<rect x="430.80" y="583.00" width="0.70" height="1.00" fill="#e8e8e8" stroke="none" stroke-width="1.0" />
<rect x="433.30" y="584.70" width="0.70" height="1.00" fill="#e8e8e8" stroke="none" stroke-width="1.0" />
<rect x="435.60" y="555.60" width="3.00" height="30.50" fill="#0c0c0c" stroke="none" stroke-width="1.0" />
<rect x="435.50" y="558.50" width="0.70" height="1.00" fill="#e8e8e8" stroke="none" stroke-width="1.0" />
<rect x="438.00" y="560.20" width="0.70" height="1.00" fill="#e8e8e8" stroke="none" stroke-width="1.0" />
<rect x="435.50" y="562.00" width="0.70" height="1.00" fill="#e8e8e8" stroke="none" stroke-width="1.0" />
<rect x="438.00" y="563.70" width="0.70" height="1.00" fill="#e8e8e8" stroke="none" stroke-width="1.0" />
<rect x="435.50" y="565.50" width="0.70" height="1.00" fill="#e8e8e8" stroke="none" stroke-width="1.0" />
<rect x="438.00" y="567.20" width="0.70" height="1.00" fill="#e8e8e8" stroke="none" stroke-width="1.0" />
<rect x="435.50" y="569.00" width="0.70" height="1.00" fill="#e8e8e8" stroke="none" stroke-width="1.0" />
<rect x="438.00" y="570.70" width="0.70" height="1.00" fill="#e8e8e8" stroke="none" stroke-width="1.0" />
<rect x="435.50" y="572.50" width="0.70" height="1.00" fill="#e8e8e8" stroke="none" stroke-width="1.0" />
<rect x="438.00" y="574.20" width="0.70" height="1.00" fill="#e8e8e8" stroke="none" stroke-width="1.0" />
<rect x="435.50" y="576.00" width="0.70" height="1.00" fill="#e8e8e8" stroke="none" stroke-width="1.0" />
<rect x="438.00" y="577.70" width="0.70" height="1.00" fill="#e8e8e8" stroke="none" stroke-width="1.0" />
<rect x="435.50" y="579.50" width="0.70" height="1.00" fill="#e8e8e8" stroke="none" stroke-width="1.0" />
<rect x="438.00" y="581.20" width="0.70" height="1.00" fill="#e8e8e8" stroke="none" stroke-width="1.0" />
<rect x="435.50" y="583.00" width="0.70" height="1.00" fill="#e8e8e8" stroke="none" stroke-width="1.0" />
<rect x="438.00" y="584.70" width="0.70" height="1.00" fill="#e8e8e8" stroke="none" stroke-width="1.0" />
<rect x="440.70" y="555.60" width="3.00" height="30.50" fill="#0c0c0c" stroke="none" stroke-width="1.0" />
<rect x="440.60" y="558.50" width="0.70" height="1.00" fill="#e8e8e8" stroke="none" stroke-width="1.0" />
<rect x="443.10" y="560.20" width="0.70" height="1.00" fill="#e8e8e8" stroke="none" stroke-width="1.0" />
<rect x="440.60" y="562.00" width="0.70" height="1.00" fill="#e8e8e8" stroke="none" stroke-width="1.0" />
<rect x="443.10" y="563.70" width="0.70" height="1.00" fill="#e8e8e8" stroke="none" stroke-width="1.0" />
<rect x="440.60" y="565.50" width="0.70" height="1.00" fill="#e8e8e8" stroke="none" stroke-width="1.0" />
<rect x="443.10" y="567.20" width="0.70" height="1.00" fill="#e8e8e8" stroke="none" stroke-width="1.0" />
<rect x="440.60" y="569.00" width="0.70" height="1.00" fill="#e8e8e8" stroke="none" stroke-width="1.0" />
<rect x="443.10" y="570.70" width="0.70" height="1.00" fill="#e8e8e8" stroke="none" stroke-width="1.0" />
<rect x="440.60" y="572.50" width="0.70" height="1.00" fill="#e8e8e8" stroke="none" stroke-width="1.0" />
<rect x="443.10" y="574.20" width="0.70" height="1.00" fill="#e8e8e8" stroke="none" stroke-width="1.0" />
<rect x="440.60" y="576.00" width="0.70" height="1.00" fill="#e8e8e8" stroke="none" stroke-width="1.0" />
<rect x="443.10" y="577.70" width="0.70" height="1.00" fill="#e8e8e8" stroke="none" stroke-width="1.0" />
<rect x="440.60" y="579.50" width="0.70" height="1.00" fill="#e8e8e8" stroke="none" stroke-width="1.0" />
<rect x="443.10" y="581.20" width="0.70" height="1.00" fill="#e8e8e8" stroke="none" stroke-width="1.0" />
<rect x="440.60" y="583.00" width="0.70" height="1.00" fill="#e8e8e8" stroke="none" stroke-width="1.0" />
<rect x="443.10" y="584.70" width="0.70" height="1.00" fill="#e8e8e8" stroke="none" stroke-width="1.0" />
<rect x="412.30" y="610.60" width="192.00" height="3.60" fill="#000" stroke="none" stroke-width="1.0" />
<rect x="530.30" y="608.90" width="7.90" height="7.30" fill="#000" stroke="none" stroke-width="1.0" />
<path d="M530.6,616 A69,66 0 0 0 599.9,679.3" fill="none" stroke="#111" stroke-width="1.2" stroke-dasharray="3.2,2.4"/>
<line x1="599.90" y1="615.50" x2="599.90" y2="679.30" stroke="#111" stroke-width="1.2" stroke-dasharray="3.2,2.4"/>
<line x1="591.00" y1="613.50" x2="526.60" y2="651.40" stroke="#111" stroke-width="1.1" />
<polygon points="538.80,644.40 528.06,647.85 531.23,648.88 530.61,652.15" fill="#111" stroke="none" stroke-width="0" stroke-linejoin="round" />
<text x="0" y="0" transform="translate(507.6,665.2) rotate(31)" font-family="Liberation Sans" font-size="10.3" fill="#222" text-anchor="middle">R 723</text>
<text x="432.20" y="643.30" font-family="Liberation Sans" font-size="10.5" fill="#222" text-anchor="middle" >SEC A-A</text>
<line x1="606.80" y1="441.30" x2="688.60" y2="441.30" stroke="#111" stroke-width="1.0" />
<line x1="607.30" y1="443.20" x2="667.00" y2="443.20" stroke="#111" stroke-width="0.9" />
<line x1="609.00" y1="452.70" x2="646.00" y2="452.70" stroke="#111" stroke-width="1.0" />
<line x1="603.00" y1="517.20" x2="646.00" y2="517.20" stroke="#111" stroke-width="1.0" />
<line x1="609.00" y1="566.60" x2="646.00" y2="566.60" stroke="#111" stroke-width="1.0" />
<line x1="609.00" y1="613.60" x2="689.00" y2="613.60" stroke="#111" stroke-width="1.0" />
<line x1="663.30" y1="427.00" x2="663.30" y2="441.30" stroke="#111" stroke-width="1.0" />
<polygon points="663.30,441.10 660.90,430.10 663.30,432.30 665.70,430.10" fill="#111" stroke="none" stroke-width="0" stroke-linejoin="round" />
<text x="0" y="0" transform="translate(669.2,416.4) rotate(-90)" font-family="Liberation Sans" font-size="10.6" fill="#222" text-anchor="middle">25</text>
<line x1="642.10" y1="452.70" x2="642.10" y2="470.00" stroke="#111" stroke-width="1.0" />
<polygon points="642.10,452.90 639.70,463.90 642.10,461.70 644.50,463.90" fill="#111" stroke="none" stroke-width="0" stroke-linejoin="round" />
<line x1="642.10" y1="501.00" x2="642.10" y2="517.20" stroke="#111" stroke-width="1.0" />
<polygon points="642.10,517.00 639.70,506.00 642.10,508.20 644.50,506.00" fill="#111" stroke="none" stroke-width="0" stroke-linejoin="round" />
<text x="0" y="0" transform="translate(646.3,485.6) rotate(-90)" font-family="Liberation Sans" font-size="10.6" fill="#222" text-anchor="middle">650</text>
<line x1="642.10" y1="557.00" x2="642.10" y2="579.00" stroke="#111" stroke-width="1.0" />
<polygon points="642.10,566.80 639.70,577.80 642.10,575.60 644.50,577.80" fill="#111" stroke="none" stroke-width="0" stroke-linejoin="round" />
<text x="0" y="0" transform="translate(646.3,542) rotate(-90)" font-family="Liberation Sans" font-size="10.6" fill="#222" text-anchor="middle">510</text>
<line x1="663.30" y1="443.00" x2="663.30" y2="508.00" stroke="#111" stroke-width="1.0" />
<polygon points="663.30,443.20 660.90,454.20 663.30,452.00 665.70,454.20" fill="#111" stroke="none" stroke-width="0" stroke-linejoin="round" />
<line x1="663.30" y1="547.00" x2="663.30" y2="613.60" stroke="#111" stroke-width="1.0" />
<polygon points="663.30,613.40 660.90,602.40 663.30,604.60 665.70,602.40" fill="#111" stroke="none" stroke-width="0" stroke-linejoin="round" />
<text x="0" y="0" transform="translate(667.5,526.7) rotate(-90)" font-family="Liberation Sans" font-size="10.6" fill="#222" text-anchor="middle">1730</text>
<line x1="684.60" y1="441.30" x2="684.60" y2="508.00" stroke="#111" stroke-width="1.0" />
<polygon points="684.60,441.50 682.20,452.50 684.60,450.30 687.00,452.50" fill="#111" stroke="none" stroke-width="0" stroke-linejoin="round" />
<line x1="684.60" y1="547.00" x2="684.60" y2="613.60" stroke="#111" stroke-width="1.0" />
<polygon points="684.60,613.40 682.20,602.40 684.60,604.60 687.00,602.40" fill="#111" stroke="none" stroke-width="0" stroke-linejoin="round" />
<text x="0" y="0" transform="translate(688.8,526.7) rotate(-90)" font-family="Liberation Sans" font-size="10.6" fill="#222" text-anchor="middle">1755</text>
</svg></body></html>
